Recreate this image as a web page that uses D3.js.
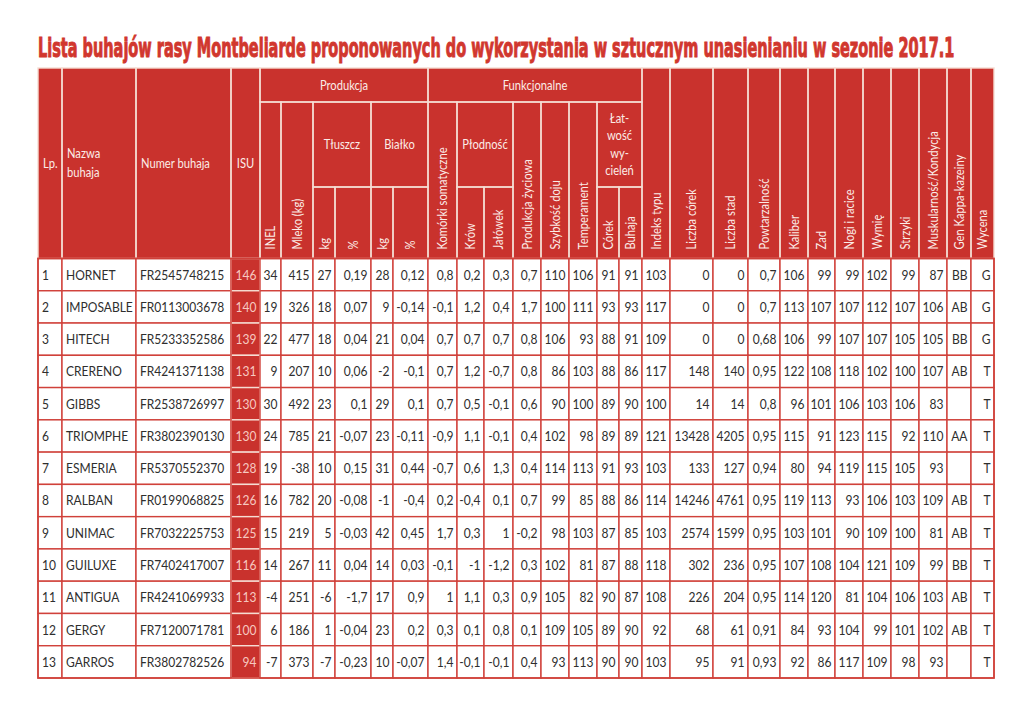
<!DOCTYPE html>
<html><head><meta charset="utf-8">
<script src="https://cdn.jsdelivr.net/npm/d3@7"></script>
<style>
html,body{margin:0;padding:0;background:#fff;}
svg{display:block;}
</style></head>
<body>
<svg id="c" width="1024" height="710"></svg>
<script>
// ---------- DATA ----------
const title = "Lista buhajów rasy Montbeliarde proponowanych do wykorzystania w sztucznym unasienianiu w sezonie 2017.1";
const lp = [1,2,3,4,5,6,7,8,9,10,11,12,13];
const names = ["HORNET","IMPOSABLE","HITECH","CRERENO","GIBBS","TRIOMPHE","ESMERIA","RALBAN","UNIMAC","GUILUXE","ANTIGUA","GERGY","GARROS"];
const numbers = ["FR2545748215","FR0113003678","FR5233352586","FR4241371138","FR2538726997","FR3802390130","FR5370552370","FR0199068825","FR7032225753","FR7402417007","FR4241069933","FR7120071781","FR3802782526"];
const isu = [146,140,139,131,130,130,128,126,125,116,113,100,94];
const inel = [34,19,22,9,30,24,19,16,15,14,-4,6,-7];
const mleko = [415,326,477,207,492,785,-38,782,219,267,251,186,373];
const tluszczKg = [27,18,18,10,23,21,10,20,5,11,-6,1,-7];
const tluszczPct = [0.19,0.07,0.04,0.06,0.1,-0.07,0.15,-0.08,-0.03,0.04,-1.7,-0.04,-0.23];
const bialkoKg = [28,9,21,-2,29,23,31,-1,42,14,17,23,10];
const bialkoPct = [0.12,-0.14,0.04,-0.1,0.1,-0.11,0.44,-0.4,0.45,0.03,0.9,0.2,-0.07];
const komorki = [0.8,-0.1,0.7,0.7,0.7,-0.9,-0.7,0.2,1.7,-0.1,1,0.3,1.4];
const plodKrow = [0.2,1.2,0.7,1.2,0.5,1.1,0.6,-0.4,0.3,-1,1.1,0.1,-0.1];
const plodJalowek = [0.3,0.4,0.7,-0.7,-0.1,-0.1,1.3,0.1,1,-1.2,0.3,0.8,-0.1];
const prodZyciowa = [0.7,1.7,0.8,0.8,0.6,0.4,0.4,0.7,-0.2,0.3,0.9,0.1,0.4];
const szybkoscDoju = [110,100,106,86,90,102,114,99,98,102,105,109,93];
const temperament = [106,111,93,103,100,98,113,85,103,81,82,105,113];
const wycielenCorek = [91,93,88,88,89,89,91,88,87,87,90,89,90];
const wycielenBuhaja = [91,93,91,86,90,89,93,86,85,88,87,90,90];
const indeksTypu = [103,117,109,117,100,121,103,114,103,118,108,92,103];
const liczbaCorek = [0,0,0,148,14,13428,133,14246,2574,302,226,68,95];
const liczbaStad = [0,0,0,140,14,4205,127,4761,1599,236,204,61,91];
const powtarzalnosc = [0.7,0.7,0.68,0.95,0.8,0.95,0.94,0.95,0.95,0.95,0.95,0.91,0.93];
const kaliber = [106,113,106,122,96,115,80,119,103,107,114,84,92];
const zad = [99,107,99,108,101,91,94,113,101,108,120,93,86];
const nogi = [99,107,107,118,106,123,119,93,90,104,81,104,117];
const wymie = [102,112,107,102,103,115,115,106,109,121,104,99,109];
const strzyki = [99,107,105,100,106,92,105,103,100,109,106,101,98];
const muskularnosc = [87,106,105,107,83,110,93,109,81,99,103,102,93];
const genKappa = ["BB","AB","BB","AB","","AA","","AB","AB","BB","AB","AB",""];
const wycena = ["G","G","G","T","T","T","T","T","T","T","T","T","T"];

// column order (data)
const columnsData = [lp,names,numbers,isu,inel,mleko,tluszczKg,tluszczPct,bialkoKg,bialkoPct,
  komorki,plodKrow,plodJalowek,prodZyciowa,szybkoscDoju,temperament,wycielenCorek,wycielenBuhaja,
  indeksTypu,liczbaCorek,liczbaStad,powtarzalnosc,kaliber,zad,nogi,wymie,strzyki,muskularnosc,genKappa,wycena];

// ---------- LAYOUT ----------
const colWidths = [24,74,95,29,21,32,22,36,22,35,29,27,29,28,28,28,22,23,28,43,35,32,28,27,28,28,28,28,24,23];
const tableLeft = 38;
const colLefts = [tableLeft, ...d3.cumsum(colWidths).map(v=>v+tableLeft)];
const colIdx = d3.range(colWidths.length);
const xL = d3.scaleOrdinal().domain(colIdx).range(colLefts.slice(0,-1));
const xR = d3.scaleOrdinal().domain(colIdx).range(colLefts.slice(1));
const tableRight = colLefts[colLefts.length-1];

const hY0 = 68, hY1 = 102, hY2 = 187, hY3 = 258.5, tableBottom = 678;
const yRow = d3.scaleBand().domain(d3.range(lp.length)).range([hY3, tableBottom]).paddingInner(0).paddingOuter(0);

const RED = "#c9322d", TITLE_RED = "#d1372e", LIGHT = "#f6ddd3", TXT = "#2e2e2e", HTXT = "#fbece7", ISU_TXT = "#f7c9c0";
const FONT = "Lato, 'Open Sans', sans-serif";
const SX = 0.86;

const svg = d3.select("#c");

function txt(g, x, y, s, o={}) {
  const rot = o.rotate ? " rotate(-90)" : "";
  return g.append("text")
    .attr("transform", `translate(${x},${y})${rot} scale(${SX},1)`)
    .attr("text-anchor", o.anchor || "start")
    .attr("dy", o.dy == null ? "0.35em" : o.dy)
    .attr("font-family", FONT)
    .attr("font-size", o.size || 14)
    .attr("fill", o.fill || TXT)
    .text(s);
}

// ---------- TITLE ----------
const titleText = svg.append("text")
  .attr("x", 0).attr("y", 0)
  .attr("font-family", "'Liberation Sans Narrow', 'Arial Narrow', 'DejaVu Sans Condensed', sans-serif")
  .attr("font-weight", 700)
  .attr("font-size", 22)
  .attr("fill", TITLE_RED)
  .attr("stroke", TITLE_RED).attr("stroke-width", 0.8)
  .text(title);
const tw = titleText.node().getComputedTextLength();
titleText.attr("transform", `translate(38,57) scale(${917 / tw},1.2)`);

// ---------- HEADER ----------
const head = svg.append("g");
head.append("rect").attr("x", tableLeft).attr("y", hY0).attr("width", tableRight - tableLeft).attr("height", hY3 - hY0).attr("fill", RED);

// header cells: [c0, c1, y0, y1, label, mode]
const headerCells = [
  [0,0,hY0,hY3,"Lp.","left"],
  [1,1,hY0,hY3,["Nazwa","buhaja"],"left"],
  [2,2,hY0,hY3,"Numer buhaja","left"],
  [3,3,hY0,hY3,"ISU","center"],
  [4,9,hY0,hY1,"Produkcja","center"],
  [4,4,hY1,hY3,"INEL","rot"],
  [5,5,hY1,hY3,"Mleko (kg)","rot"],
  [6,7,hY1,hY2,"Tłuszcz","center"],
  [8,9,hY1,hY2,"Białko","center"],
  [6,6,hY2,hY3,"kg","rot"],
  [7,7,hY2,hY3,"%","rot"],
  [8,8,hY2,hY3,"kg","rot"],
  [9,9,hY2,hY3,"%","rot"],
  [10,17,hY0,hY1,"Funkcjonalne","center"],
  [10,10,hY1,hY3,"Komórki somatyczne","rot"],
  [11,12,hY1,hY2,"Płodność","center"],
  [11,11,hY2,hY3,"Krów","rot"],
  [12,12,hY2,hY3,"Jałówek","rot"],
  [13,13,hY1,hY3,"Produkcja życiowa","rot"],
  [14,14,hY1,hY3,"Szybkość doju","rot"],
  [15,15,hY1,hY3,"Temperament","rot"],
  [16,17,hY1,hY2,["Łat-","wość","wy-","cieleń"],"center"],
  [16,16,hY2,hY3,"Córek","rot"],
  [17,17,hY2,hY3,"Buhaja","rot"],
  [18,18,hY0,hY3,"Indeks typu","rot"],
  [19,19,hY0,hY3,"Liczba córek","rot"],
  [20,20,hY0,hY3,"Liczba stad","rot"],
  [21,21,hY0,hY3,"Powtarzalność","rot"],
  [22,22,hY0,hY3,"Kaliber","rot"],
  [23,23,hY0,hY3,"Zad","rot"],
  [24,24,hY0,hY3,"Nogi i racice","rot"],
  [25,25,hY0,hY3,"Wymię","rot"],
  [26,26,hY0,hY3,"Strzyki","rot"],
  [27,27,hY0,hY3,"Muskularność/Kondycja","rot"],
  [28,28,hY0,hY3,"Gen Kappa-kazeiny","rot"],
  [29,29,hY0,hY3,"Wycena","rot"]
];

headerCells.forEach(([c0,c1,y0,y1,label,mode]) => {
  const x0 = xL(c0), x1 = xR(c1);
  head.append("rect").attr("x", x0).attr("y", y0).attr("width", x1-x0).attr("height", y1-y0)
    .attr("fill", "none").attr("stroke", LIGHT).attr("stroke-width", 1.4);
  const cy = (y0+y1)/2, cx = (x0+x1)/2;
  const lines = Array.isArray(label) ? label : [label];
  if (mode === "rot") {
    txt(head, cx, y1 - 9, label, {rotate:true, size:13, fill:HTXT});
  } else {
    const lh = lines.length === 4 ? 17.2 : 19;
    lines.forEach((s,i) => {
      const yy = cy + (i - (lines.length-1)/2) * lh;
      if (mode === "left") txt(head, x0 + 5, yy, s, {size:13, fill:HTXT});
      else txt(head, cx, yy, s, {size:13, fill:HTXT, anchor:"middle"});
    });
  }
});

// ---------- BODY ----------
const body = svg.append("g");
const fmt = v => (v === "" ? "" : String(v).replace(".", ","));
const leftCols = new Set([0,1,2]);

lp.forEach((_, r) => {
  const y0 = yRow(r), h = yRow.bandwidth();
  colIdx.forEach(c => {
    const x0 = xL(c), x1 = xR(c);
    const isIsu = c === 3;
    body.append("rect").attr("x", x0).attr("y", y0).attr("width", x1-x0).attr("height", h)
      .attr("fill", isIsu ? RED : "#fff")
      .attr("stroke", isIsu ? LIGHT : "#d0413a").attr("stroke-width", 1.4);
  });
});
body.append("line").attr("x1", xL(3)).attr("x2", xL(3)).attr("y1", hY3).attr("y2", tableBottom).attr("stroke", "#d0413a").attr("stroke-width", 1.4);
// outer border
body.append("rect").attr("x", tableLeft).attr("y", hY3).attr("width", tableRight-tableLeft).attr("height", tableBottom-hY3)
  .attr("fill", "none").attr("stroke", "#d0413a").attr("stroke-width", 1.6);

lp.forEach((_, r) => {
  const cy = yRow(r) + yRow.bandwidth()/2;
  colIdx.forEach(c => {
    const s = fmt(columnsData[c][r]);
    if (s === "") return;
    if (leftCols.has(c)) {
      txt(body, xL(c) + 4, cy, s, {size:14});
    } else {
      txt(body, xR(c) - 3.5, cy, s, {size:14, anchor:"end", fill: c === 3 ? ISU_TXT : TXT});
    }
  });
});
</script>
</body></html>
